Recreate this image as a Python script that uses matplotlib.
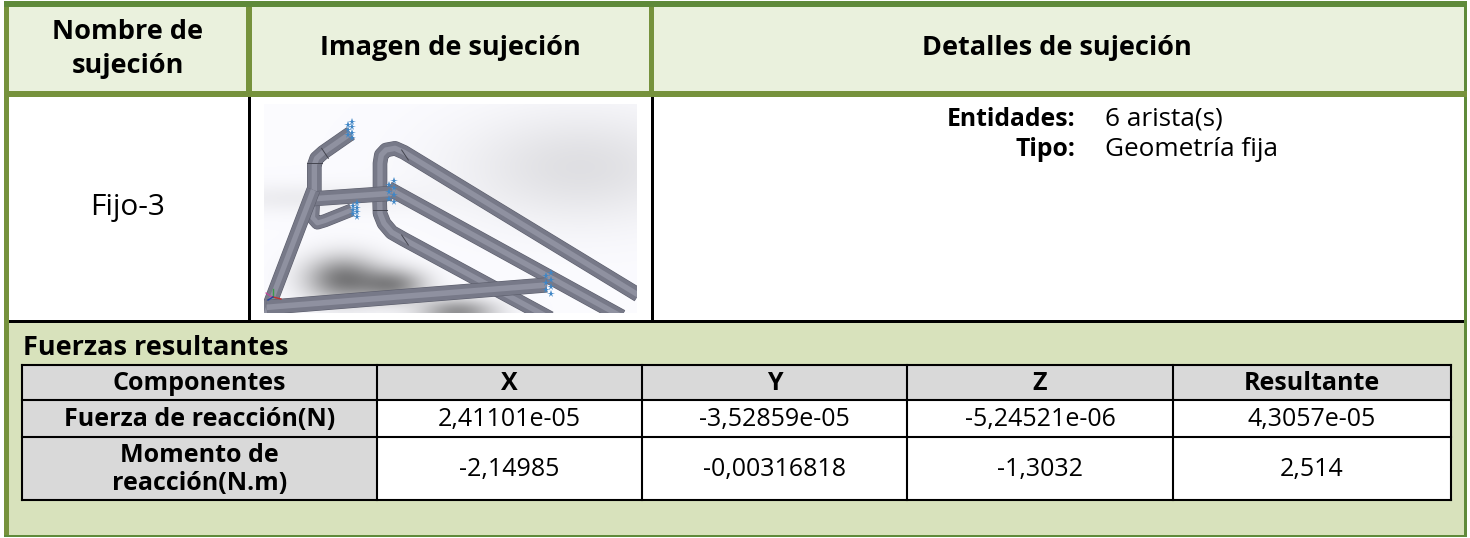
import numpy as np
import matplotlib
matplotlib.use("Agg")
import matplotlib.pyplot as plt
import matplotlib.patheffects as pe
from matplotlib.patches import Rectangle

plt.rcParams['font.family'] = ['Open Sans', 'DejaVu Sans']

# =========================
# TEXTS
# =========================
header_labels = ["Nombre de\nsujeción", "Imagen de sujeción", "Detalles de sujeción"]
fixture_name = "Fijo-3"
detail_keys = ["Entidades:", "Tipo:"]
detail_values = ["6 arista(s)", "Geometría fija"]
section_title = "Fuerzas resultantes"
table_columns = ["Componentes", "X", "Y", "Z", "Resultante"]
row_labels = ["Fuerza de reacción(N)", "Momento de\nreacción(N.m)"]
row_forces = ["2,41101e-05", "-3,52859e-05", "-5,24521e-06", "4,3057e-05"]
row_moments = ["-2,14985", "-0,00316818", "-1,3032", "2,514"]

# column edges and row edges of the small table, px
table_x = [22, 377, 642, 907, 1173, 1451]
table_y = [365, 400, 437, 500]

DARK_GREEN = "#5f8a3a"
GREEN = "#76923c"
HEAD_BG = "#eaf1dd"
LOW_BG = "#d8e2bc"
GREY = "#d9d9d9"

fig = plt.figure(figsize=(14.7, 5.38), dpi=100)
ax = fig.add_axes([0, 0, 1, 1])
ax.set_xlim(0, 1470)
ax.set_ylim(538, 0)
ax.axis("off")


def box(x0, y0, x1, y1, color, z=1):
    ax.add_patch(Rectangle((x0, y0), x1 - x0, y1 - y0, fc=color, ec="none", zorder=z))


# =========================
# FRAME
# =========================
box(0, 0, 1470, 538, "white", 0)
box(4, 1, 1467, 537, DARK_GREEN, 1)
box(9, 7, 1464, 93, HEAD_BG, 2)
box(9, 97, 1464, 321, "white", 2)
box(9, 323, 1464, 535, LOW_BG, 2)
box(4, 91, 1467, 97, GREEN, 3)
box(4, 7, 9, 535, GREEN, 3)
box(246, 7, 252, 93, GREEN, 3)
box(649, 7, 654, 93, GREEN, 3)
box(248, 97, 251, 321, "black", 3)
box(651, 97, 654, 321, "black", 3)
box(9, 320, 1464, 323, "black", 3)

# =========================
# RENDER OF THE TUBES
# =========================
IMG = (264, 637, 313, 104)
xx, yy = np.meshgrid(np.linspace(0, 1, 187), np.linspace(0, 1, 105))
bg = 1 - 0.11 * np.exp(-((xx - 0.85) ** 2 / 0.10 + (yy - 0.3) ** 2 / 0.07))
bg -= 0.06 * np.exp(-((yy - 0.45) ** 2) / 0.005) * np.exp(-((xx - 0.1) ** 2) / 0.08)
shadow = (0.50 * np.exp(-((xx - 0.21) ** 2 / 0.010 + (yy - 0.84) ** 2 / 0.012))
          + 0.42 * np.exp(-((xx - 0.35) ** 2 / 0.007 + (yy - 0.87) ** 2 / 0.006))
          + 0.42 * np.exp(-((xx - 0.52) ** 2 / 0.010 + (yy - 1.0) ** 2 / 0.004)))
gray = np.clip(bg - shadow, 0, 1)
rgb = np.dstack([gray * 0.985, gray * 0.985, np.clip(gray * 1.0, 0, 1)])
ax.imshow(rgb, extent=IMG, aspect="auto", zorder=4, interpolation="bicubic")
ax.set_xlim(0, 1470)
ax.set_ylim(538, 0)
clip = Rectangle((264, 104), 373, 209, transform=ax.transData)


def to_px(xs, ys):
    return [260 + v / 3 for v in xs], [95 + v / 3 for v in ys]


def tube(xs, ys, w=13.5, z=5):
    px, py = to_px(xs, ys)
    lw = w * 0.72
    ln, = ax.plot(px, py, color="#777988", lw=lw, solid_capstyle="butt",
                  solid_joinstyle="round", zorder=z,
                  path_effects=[pe.Stroke(linewidth=lw + 0.8, foreground="#5a5c6a"), pe.Normal()])
    ln.set_clip_path(clip)
    hl, = ax.plot(px, py, color="#8f91a0", lw=lw * 0.4, solid_capstyle="butt",
                  solid_joinstyle="round", zorder=z + 0.1)
    hl.set_clip_path(clip)


tube([360, 360, 364, 378, 405, 432, 1135], [290, 205, 180, 165, 160, 172, 600])
tube([385, 1085], [280, 665])
tube([358, 360, 372, 395, 430, 870], [285, 355, 385, 412, 432, 670])
tube([163, 163, 170, 190, 272], [300, 210, 190, 172, 115], z=6)
tube([160, 158, 172, 195, 275], [330, 368, 384, 377, 345], w=12, z=6)
tube([150, 395], [312, 295], w=14, z=7)
tube([15, 160], [665, 285], w=13, z=7.5)
tube([20, 860], [637, 570], w=14, z=8)

# seams on the tubes
seam_x = [[140, 185], [185, 205], [425, 445], [425, 445], [338, 382]]
seam_y = [[205, 205], [160, 190], [165, 195], [420, 450], [345, 345]]
for sx, sy in zip(seam_x, seam_y):
    px, py = to_px(sx, sy)
    ax.plot(px, py, color="#44454f", lw=0.7, zorder=8.5)

# blue fixture arrows
fx = [270, 395, 285, 865]
fy = [105, 290, 345, 565]
fh = [24, 32, 20, 32]
for cx, cy, h in zip(fx, fy, fh):
    ds = np.linspace(-h, h, 7)
    px, py = to_px([cx + 7 * (-1) ** i for i in range(7)], [cy + d for d in ds])
    ax.plot(px, py, ls="none", marker="*", ms=5.5, mew=0, color="#3f86c6", zorder=9)

# triad
ax.plot([266, 272], [293, 297], color="#c8409a", lw=0.8, zorder=9)
ax.plot([273, 273], [297, 289], color="#3a9a4a", lw=1, zorder=9)
ax.plot([273, 281], [297, 299], color="#c03030", lw=1, zorder=9)
ax.plot([273, 268], [297, 300], color="#2040a0", lw=1, zorder=9)

# =========================
# HEADER TEXT
# =========================
ax.text(128, 49, header_labels[0], ha="center", va="center", fontsize=19.5, fontweight="bold",
        linespacing=1.38, zorder=10)
ax.text(450, 48, header_labels[1], ha="center", va="center", fontsize=19.5, fontweight="bold", zorder=10)
ax.text(1057, 48, header_labels[2], ha="center", va="center", fontsize=19.5, fontweight="bold", zorder=10)
ax.text(128, 208, fixture_name, ha="center", va="center", fontsize=21.5, zorder=10)

detail_y = [119, 150]
for k, v, y in zip(detail_keys, detail_values, detail_y):
    ax.text(1075, y, k, ha="right", va="center", fontsize=17.8, fontweight="bold", zorder=10)
    ax.text(1105, y, v, ha="left", va="center", fontsize=18.8, zorder=10)

ax.text(23, 348, section_title, ha="left", va="center", fontsize=19.5, fontweight="bold", zorder=10)

# =========================
# SMALL TABLE
# =========================
box(table_x[0], table_y[0], table_x[-1], table_y[1], GREY, 4)
box(table_x[0], table_y[0], table_x[1], table_y[-1], GREY, 4)
box(table_x[1], table_y[1], table_x[-1], table_y[-1], "white", 4)
for x in table_x:
    ax.plot([x, x], [table_y[0], table_y[-1]], color="black", lw=1.5, zorder=5, solid_capstyle="projecting")
for y in table_y:
    ax.plot([table_x[0], table_x[-1]], [y, y], color="black", lw=1.5, zorder=5, solid_capstyle="projecting")

centers = [(a + b) / 2 for a, b in zip(table_x[:-1], table_x[1:])]
for c, t in zip(centers, table_columns):
    ax.text(c, (table_y[0] + table_y[1]) / 2 + 1, t, ha="center", va="center", fontsize=18, fontweight="bold", zorder=10)
rows = [row_forces, row_moments]
for i in range(2):
    cy = (table_y[i + 1] + table_y[i + 2]) / 2 + 1
    ax.text(centers[0], cy, row_labels[i], ha="center", va="center", fontsize=18, fontweight="bold",
            linespacing=1.12, zorder=10)
    for c, t in zip(centers[1:], rows[i]):
        ax.text(c, cy, t, ha="center", va="center", fontsize=18, zorder=10)

fig.savefig("out.png", dpi=100)
